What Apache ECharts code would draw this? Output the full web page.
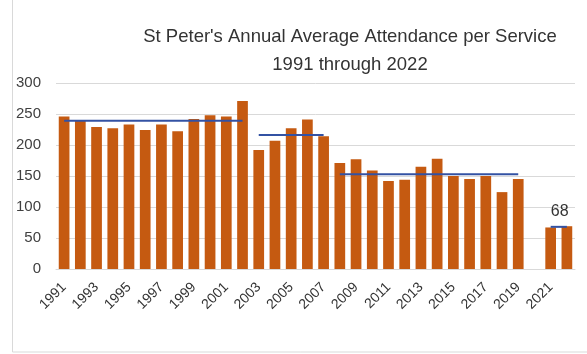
<!DOCTYPE html>
<html>
<head>
<meta charset="utf-8">
<script src="https://cdn.jsdelivr.net/npm/echarts@6/dist/echarts.min.js"></script>
<style>
  html, body { margin: 0; padding: 0; background: #fff; }
  #chart { width: 587px; height: 354px; }
</style>
</head>
<body>
<div id="chart"></div>
<script>
// years 1991..2022
const years = ['1991', '1992', '1993', '1994', '1995', '1996', '1997', '1998', '1999', '2000',
  '2001', '2002', '2003', '2004', '2005', '2006', '2007', '2008', '2009', '2010',
  '2011', '2012', '2013', '2014', '2015', '2016', '2017', '2018', '2019', '2020', '2021', '2022']
// average attendance per service (2020 has no value)
const attendance = [246, 240, 229, 227, 233, 224, 233, 222, 242, 248,
  246, 271, 192, 207, 227, 241, 214, 171, 177, 159,
  142, 144, 165, 178, 150, 145, 150, 124, 145, null, 67, 69]
// period averages: [first year, last year, value]
const periodAvgs = [
  ['1991', '2002', 239],
  ['2003', '2007', 216],
  ['2008', '2019', 153],
  ['2021', '2022', 68]
]

const chart = echarts.init(document.getElementById('chart'))

const avgSeries = periodAvgs.map(function (p, k) {
  const last = k === periodAvgs.length - 1
  const data = years.map(function (y) {
    const v = (y === p[0] || y === p[1]) ? p[2] : null
    if (last && y === p[0]) {
      // label "68" sits over the short last line
      return {
        value: v,
        label: { show: true, position: 'top', offset: [9, -2], fontSize: 16, color: '#333', fontFamily: 'Liberation Sans' }
      }
    }
    return v
  })
  return {
    type: 'line',
    data: data,
    connectNulls: true,
    symbol: 'circle',
    symbolSize: 0,
    showAllSymbol: true,
    lineStyle: { color: '#3352A3', width: 2 },
    z: 5
  }
})

const option = {
  animation: false,
  backgroundColor: '#fff',
  title: {
    text: "St Peter's Annual Average Attendance per Service\n1991 through 2022",
    left: 345,
    top: 18,
    textAlign: 'center',
    textStyle: { fontSize: 18.5, fontWeight: 'normal', color: '#333', fontFamily: 'Liberation Sans', lineHeight: 28 }
  },
  graphic: [{
    type: 'rect',
    shape: { x: 12.5, y: -5, width: 600, height: 357 },
    style: { fill: 'none', stroke: '#d9d9d9', lineWidth: 1 },
    silent: true
  }],
  grid: { left: 56, right: 12, top: 83, bottom: 85 },
  xAxis: {
    type: 'category',
    data: years,
    axisTick: { show: false },
    axisLine: { lineStyle: { color: '#d9d9d9' } },
    axisLabel: {
      interval: 1,
      rotate: 45,
      margin: 16,
      fontSize: 14,
      color: '#333',
      fontFamily: 'Liberation Sans'
    }
  },
  yAxis: {
    type: 'value',
    min: 0,
    max: 300,
    interval: 50,
    axisLine: { show: false },
    axisTick: { show: false },
    splitLine: { lineStyle: { color: '#d9d9d9' } },
    axisLabel: { fontSize: 15, color: '#404040', margin: 15, fontFamily: 'Liberation Sans' }
  },
  series: [{
    type: 'bar',
    data: attendance,
    barWidth: '66%',
    itemStyle: { color: '#C55A11' }
  }].concat(avgSeries)
}

chart.setOption(option)
</script>
</body>
</html>
